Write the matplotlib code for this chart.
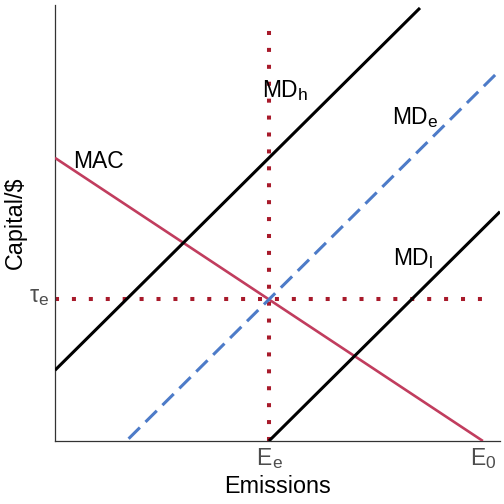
import matplotlib
matplotlib.use("Agg")
import matplotlib.pyplot as plt
from matplotlib.transforms import offset_copy

plt.rcParams['font.family'] = ['Liberation Sans', 'DejaVu Sans']

# Data (abstract units)
E_e = 5.0
E_0 = 10.0
tau_e = 5.0
slope = 1.5

mac_x = [0.0, E_0]
mac_y = [10.0, 0.0]
mdh_x = [0.0, 8.53]
mdh_y = [10.0 + slope * (x - E_e) for x in mdh_x]
mde_x = [1.72, 10.4]
mde_y = [tau_e + slope * (x - E_e) for x in mde_x]
mdl_x = [E_e, 10.4]
mdl_y = [slope * (x - E_e) for x in mdl_x]
vline_y = [0.0, 14.65]
hline_x = [0.0, E_0]

x_ticks = [E_e, E_0]
x_tick_main = ['E', 'E']
x_tick_sub = ['e', '0']
y_ticks = [tau_e]
y_tick_main = ['\u03c4']
y_tick_sub = ['e']

label_main = ['MAC', 'MD', 'MD', 'MD']
label_sub = ['', 'h', 'e', 'l']
label_x = [0.42, 4.84, 7.87, 7.90]
label_y = [9.65, 12.16, 11.20, 6.22]

fig = plt.figure(figsize=(5.04, 5.04), dpi=100)
ax = fig.add_axes([55/504, 1 - 441/504, 445/504, 436/504])

red = '#A81A2B'
ax.plot([E_e, E_e], vline_y, color=red, lw=2.9, dashes=(1, 3.2), dash_capstyle='butt', zorder=2)
ax.plot(hline_x, [tau_e, tau_e], color=red, lw=2.9, dashes=(1, 3.2), dash_capstyle='butt', zorder=2)
ax.plot(mac_x, mac_y, color='#C13D5E', lw=1.9, zorder=3, solid_capstyle='butt')
ax.plot(mdh_x, mdh_y, color='black', lw=2.2, zorder=3, solid_capstyle='butt')
ax.plot(mde_x, mde_y, color='#4D7BC8', lw=2.2, dashes=(5.2, 2.6), dash_capstyle='butt', zorder=3)
ax.plot(mdl_x, mdl_y, color='black', lw=2.2, zorder=3, solid_capstyle='butt')

ax.set_xlim(0, 10.4)
ax.set_ylim(0, 15.4)
ax.set_xticks([])
ax.set_yticks([])
for s in ['top', 'right']:
    ax.spines[s].set_visible(False)
for s in ['left', 'bottom']:
    ax.spines[s].set_color('#333333')
    ax.spines[s].set_linewidth(0.9)

items = []
def sub_label(x, y, main, sub, ha, color, size=16.5, subsize=12.5, dy=-2.2, gap=0.2):
    t1 = ax.text(x, y, main, fontsize=size, ha='left', va='baseline', color=color, clip_on=False)
    t2 = None
    if sub:
        t2 = ax.text(x, y, sub, fontsize=subsize, ha='left', va='baseline', color=color, clip_on=False)
    items.append((t1, t2, ha, dy, gap))

for m, s, x, y in zip(label_main, label_sub, label_x, label_y):
    sub_label(x, y, m, s, 'left', 'black')

tick_y = -(465 - 441) / 28.3
for xt, m, s in zip(x_ticks, x_tick_main, x_tick_sub):
    sub_label(xt, tick_y, m, s, 'center', '#4d4d4d', dy=-2.0)
for yt, m, s in zip(y_ticks, y_tick_main, y_tick_sub):
    sub_label(-0.16, yt - 0.09, m, s, 'right', '#4d4d4d', dy=-2.0)

fig.canvas.draw()
r = fig.canvas.get_renderer()
k = 72.0 / fig.dpi
for t1, t2, ha, dy, gap in items:
    w1 = t1.get_window_extent(r).width * k
    w2 = t2.get_window_extent(r).width * k if t2 is not None else 0.0
    total = w1 + (gap + w2 if t2 is not None else 0.0)
    shift = 0.0 if ha == 'left' else (-total / 2 if ha == 'center' else -total)
    t1.set_transform(offset_copy(ax.transData, fig=fig, x=shift, y=0, units='points'))
    if t2 is not None:
        t2.set_transform(offset_copy(ax.transData, fig=fig, x=shift + w1 + gap, y=dy, units='points'))

fig.text(277.5/504, 1 - 493/504, 'Emissions', fontsize=16.8, ha='center', va='baseline', color='black')
fig.text(4/504, 1 - 222.5/504, 'Capital/$', fontsize=16.8, rotation=90, ha='left', va='center', color='black')

fig.savefig('out.png', dpi=100)
